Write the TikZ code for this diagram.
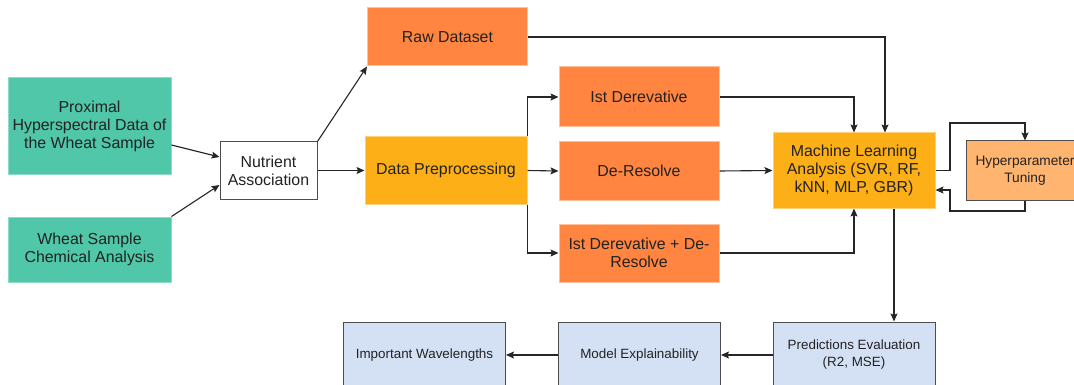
\documentclass[tikz,border=0pt]{standalone}
\usepackage{fontspec}
\setmainfont{Liberation Sans}
\usetikzlibrary{arrows.meta}
\definecolor{tealfill}{HTML}{4FC7A8}
\definecolor{tealedge}{HTML}{8EDCC6}
\definecolor{orangefill}{HTML}{FF8540}
\definecolor{orangeedge}{HTML}{FFC09A}
\definecolor{amberfill}{HTML}{FDAF17}
\definecolor{amberedge}{HTML}{FFD27A}
\definecolor{peachfill}{HTML}{FFB570}
\definecolor{bluefill}{HTML}{D4E1F5}
\definecolor{edgegray}{HTML}{4D4D4D}
\definecolor{textdark}{HTML}{222222}
\tikzset{
  box/.style={rectangle, inner sep=2pt, align=center, text=textdark,
    font=\fontsize{15.9}{18}\selectfont, line width=1pt},
  greenbox/.style={box, fill=tealfill, draw=tealedge, minimum width=163pt},
  orangebox/.style={box, fill=orangefill, draw=orangeedge, minimum width=160pt},
  amberbox/.style={box, fill=amberfill, draw=amberedge, minimum width=162pt},
  whitebox/.style={box, fill=white, draw=edgegray, minimum width=97pt, minimum height=57pt},
  tunebox/.style={box, fill=peachfill, draw=edgegray, minimum width=118pt, minimum height=59pt,
    font=\fontsize{13.7}{17}\selectfont},
  bluebox/.style={box, fill=bluefill, draw=edgegray, minimum width=162pt, minimum height=66pt,
    font=\fontsize{13.4}{17}\selectfont},
  flow/.style={draw=black!85, line width=1.1pt, -{Stealth[length=8pt,width=7pt,inset=1.5pt]}},
}
\begin{document}
\begin{tikzpicture}[x=1pt, y=-1pt]
  \useasboundingbox (0,0) rectangle (1074,385);
  \clip (0,0) rectangle (1074,385);

  % inputs
  \node[greenbox, minimum height=97pt] (g1) at (89.5,126.5) {Proximal\\Hyperspectral Data of\\the Wheat Sample};
  \node[greenbox, minimum height=65pt] (g2) at (89.5,249.5) {Wheat Sample\\Chemical Analysis};
  \node[whitebox] (na) at (268.5,170.5) {Nutrient\\Association};

  % data branches
  \node[orangebox, minimum height=58pt] (raw) at (447.5,37) {Raw Dataset};
  \node[amberbox, minimum height=68pt] (dp) at (446,170.5) {Data Preprocessing};
  \node[orangebox, minimum height=60pt] (d1) at (639,97) {Ist Derevative};
  \node[orangebox, minimum height=59pt] (dr) at (639,171) {De-Resolve};
  \node[orangebox, minimum height=58pt] (d1dr) at (639,253) {Ist Derevative + De-\\Resolve};

  % modelling
  \node[amberbox, minimum height=75pt] (ml) at (854,170.5) {Machine Learning\\Analysis (SVR, RF,\\kNN, MLP, GBR)};
  \node[tunebox] (hp) at (1025,170.5) {Hyperparameter\\Tuning};

  % evaluation row
  \node[bluebox] (pe) at (854,355) {Predictions Evaluation\\(R2, MSE)};
  \node[bluebox] (me) at (639.5,355) {Model Explainability};
  \node[bluebox] (iw) at (424.5,355) {Important Wavelengths};

  % loop corners for tuning
  \coordinate (loopA) at (950,123);
  \coordinate (loopB) at (950,211);

  % connectors
  \draw[flow] ([yshift=-18.5pt]g1.east) -- ([yshift=13.5pt]na.west);
  \draw[flow] (g2.north east) -- ([yshift=-14.5pt]na.west);
  \draw[flow] (na.north east) -- (raw.south west);
  \draw[flow] (na.east) -- (dp.west);
  \draw[flow] (dp.north east) |- (d1.west);
  \draw[flow] (dp.east) -- (dr.west);
  \draw[flow] (dp.south east) |- (d1dr.west);
  \draw[flow] (raw.east) -| ([xshift=31pt]ml.north);
  \draw[flow] (d1.east) -| (ml.north);
  \draw[flow] (dr.east) -- (ml.west);
  \draw[flow] (d1dr.east) -| (ml.south);
  \draw[flow] (ml.east) -| (loopA) -| (hp.north);
  \draw[flow] (hp.south) |- (loopB) |- ([yshift=-19.5pt]ml.east);
  \draw[flow] ([xshift=40pt]ml.south) -- ([xshift=40pt]pe.north);
  \draw[flow] (pe.west) -- (me.east);
  \draw[flow] (me.west) -- (iw.east);
\end{tikzpicture}
\end{document}
